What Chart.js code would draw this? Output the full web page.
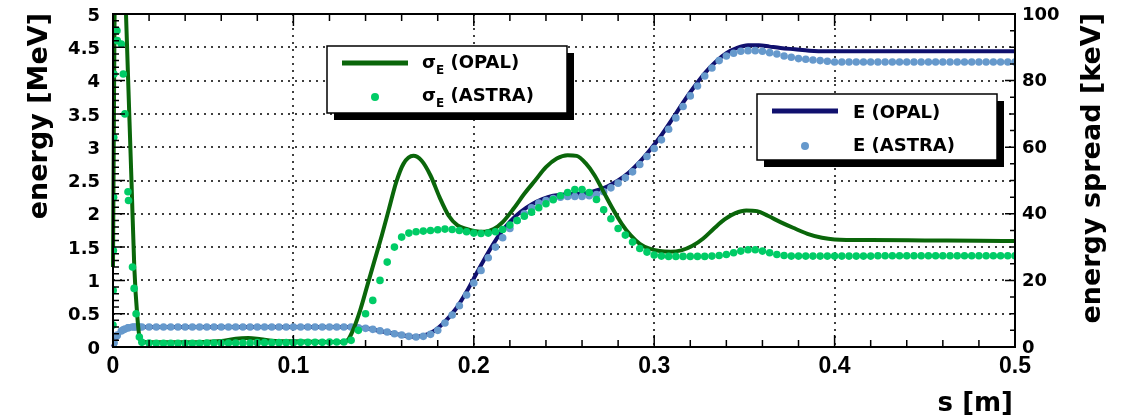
<!DOCTYPE html>
<html>
<head>
<meta charset="utf-8">
<title>energy and energy spread along s</title>
<script src="https://cdn.jsdelivr.net/npm/chart.js@4.4.1/dist/chart.umd.min.js"></script>
<style>
  html, body { margin: 0; padding: 0; background: #fff; }
  #chart { display: block; }
</style>
</head>
<body>
<canvas id="chart" width="1126" height="420"></canvas>
<script>
// tick labels
const xTicks = [0, 0.1, 0.2, 0.3, 0.4, 0.5];
const yTicks = [0, 0.5, 1, 1.5, 2, 2.5, 3, 3.5, 4, 4.5, 5];
const y2Ticks = [0, 20, 40, 60, 80, 100];

// OPAL mean energy [MeV]
const sOpalE = [0, 0.002, 0.004, 0.007, 0.01, 0.05, 0.1, 0.13, 0.14, 0.15,
  0.158, 0.166, 0.172, 0.178, 0.184, 0.19, 0.196, 0.202, 0.208, 0.214,
  0.22, 0.226, 0.232, 0.238, 0.244, 0.25, 0.256, 0.262, 0.268, 0.274,
  0.28, 0.286, 0.292, 0.298, 0.304, 0.31, 0.316, 0.322, 0.328, 0.334,
  0.34, 0.346, 0.352, 0.358, 0.364, 0.37, 0.378, 0.386, 0.395, 0.42,
  0.46, 0.5];
const eOpal = [0, 0.15, 0.23, 0.28, 0.3, 0.3, 0.3, 0.3, 0.28, 0.23,
  0.19, 0.155, 0.17, 0.24, 0.38, 0.57, 0.83, 1.13, 1.42, 1.68,
  1.88, 2.03, 2.14, 2.22, 2.27, 2.29, 2.3, 2.31, 2.35, 2.41,
  2.5, 2.62, 2.78, 2.97, 3.18, 3.42, 3.67, 3.9, 4.11, 4.28,
  4.41, 4.49, 4.53, 4.53, 4.51, 4.49, 4.47, 4.45, 4.44, 4.44,
  4.44, 4.44];

// OPAL energy spread [keV]
const sOpalS = [0, 0.0004, 0.001, 0.003, 0.005, 0.0072, 0.0103, 0.0118, 0.0135, 0.015,
  0.017, 0.03, 0.05, 0.06, 0.068, 0.075, 0.082, 0.09, 0.1, 0.11,
  0.12, 0.127, 0.13, 0.133, 0.137, 0.141, 0.145, 0.149, 0.153, 0.157,
  0.161, 0.1665, 0.171, 0.176, 0.181, 0.186, 0.191, 0.196, 0.201, 0.206,
  0.211, 0.216, 0.222, 0.228, 0.234, 0.24, 0.246, 0.252, 0.257, 0.262,
  0.267, 0.272, 0.277, 0.282, 0.287, 0.292, 0.297, 0.303, 0.309, 0.315,
  0.321, 0.327, 0.333, 0.339, 0.345, 0.351, 0.357, 0.363, 0.37, 0.377,
  0.385, 0.393, 0.4, 0.42, 0.45, 0.48, 0.5];
const sigmaOpal = [24, 60, 110, 150, 140, 100, 49, 24, 9, 2.2,
  1.5, 1.4, 1.5, 1.8, 2.5, 2.7, 2.3, 1.8, 1.7, 1.6,
  1.5, 1.5, 2, 5, 11, 18.5, 26, 33.5, 41.5, 49.5,
  55, 57.4, 56, 51.5, 45, 39.5, 36.5, 35.5, 34.8, 34.6,
  35.4, 37.5, 41.5, 46, 50, 54, 56.6, 57.6, 57.4, 55.2,
  51.5, 46.5, 41.5, 37, 33.5, 31, 29.6, 28.8, 28.6, 29,
  30.3, 32.5, 35.5, 38.3, 40.2, 41, 40.8, 39.4, 37.5, 35.8,
  34, 32.8, 32.3, 32.1, 32, 31.9, 31.8];

// ASTRA samples (shared s positions)
const sAstra = [0, 0.0001, 0.0002, 0.0003, 0.0004, 0.0005, 0.0022, 0.0024, 0.0046, 0.0057,
  0.0066, 0.0083, 0.0086, 0.0108, 0.0117, 0.0128, 0.0146,
  0.016, 0.02, 0.024, 0.028, 0.032, 0.036, 0.04, 0.044, 0.048, 0.052,
  0.056, 0.06, 0.064, 0.068, 0.072, 0.076, 0.08, 0.084, 0.088, 0.092,
  0.096, 0.1, 0.104, 0.108, 0.112, 0.116, 0.12, 0.124, 0.128, 0.132,
  0.136, 0.14, 0.144, 0.148, 0.152, 0.156, 0.16, 0.164, 0.168, 0.172,
  0.176, 0.18, 0.184, 0.188, 0.192, 0.196, 0.2, 0.204, 0.208, 0.212,
  0.216, 0.22, 0.224, 0.228, 0.232, 0.236, 0.24, 0.244, 0.248, 0.252,
  0.256, 0.26, 0.264, 0.268, 0.272, 0.276, 0.28, 0.284, 0.288, 0.292,
  0.296, 0.3, 0.304, 0.308, 0.312, 0.316, 0.32, 0.324, 0.328, 0.332,
  0.336, 0.34, 0.344, 0.348, 0.352, 0.356, 0.36, 0.364, 0.368, 0.372,
  0.376, 0.38, 0.384, 0.388, 0.392, 0.396, 0.4, 0.404, 0.408, 0.412,
  0.416, 0.42, 0.424, 0.428, 0.432, 0.436, 0.44, 0.444, 0.448, 0.452,
  0.456, 0.46, 0.464, 0.468, 0.472, 0.476, 0.48, 0.484, 0.488, 0.492,
  0.496, 0.5];
const eAstra = [0.02, 0.03, 0.04, 0.05, 0.06, 0.07, 0.17, 0.18, 0.24, 0.26,
  0.27, 0.29, 0.29, 0.3, 0.3, 0.3, 0.3,
  0.3, 0.3, 0.3, 0.3, 0.3, 0.3, 0.3, 0.3, 0.3, 0.3,
  0.3, 0.3, 0.3, 0.3, 0.3, 0.3, 0.3, 0.3, 0.3, 0.3,
  0.3, 0.3, 0.3, 0.3, 0.3, 0.3, 0.3, 0.3, 0.3, 0.3,
  0.29, 0.28, 0.265, 0.245, 0.225, 0.2, 0.18, 0.16, 0.15, 0.16,
  0.19, 0.25, 0.36, 0.48, 0.62, 0.78, 0.96, 1.15, 1.34, 1.5,
  1.64, 1.78, 1.9, 2.0, 2.09, 2.16, 2.2, 2.23, 2.25, 2.26,
  2.26, 2.26, 2.27, 2.29, 2.33, 2.39, 2.46, 2.54, 2.63, 2.74,
  2.86, 2.98, 3.11, 3.27, 3.44, 3.61, 3.77, 3.92, 4.07, 4.19,
  4.3, 4.37, 4.41, 4.44, 4.45, 4.45, 4.44, 4.42, 4.4, 4.37,
  4.35, 4.33, 4.32, 4.31, 4.3, 4.29, 4.28, 4.28, 4.28, 4.28,
  4.28, 4.28, 4.28, 4.28, 4.28, 4.28, 4.28, 4.28, 4.28, 4.28,
  4.28, 4.28, 4.28, 4.28, 4.28, 4.28, 4.28, 4.28, 4.28, 4.28,
  4.28, 4.28];
const sigmaAstra = [6.6, 17, 29, 45, 63, 82, 95, 92, 91, 82,
  70, 46.6, 44, 24, 17.6, 10, 3,
  1.4, 1.2, 1.1, 1.1, 1.1, 1.1, 1.1, 1.1, 1.1, 1.2,
  1.2, 1.2, 1.2, 1.2, 1.2, 1.2, 1.3, 1.3, 1.3, 1.3,
  1.3, 1.3, 1.4, 1.4, 1.4, 1.4, 1.5, 1.5, 1.5, 2,
  5, 10, 14, 20, 25.5, 30, 33, 34.2, 34.6, 34.8,
  35, 35.2, 35.4, 35.3, 35, 34.6, 34.2, 34.1, 34.2, 34.6,
  35.3, 36.6, 38, 39.3, 40.5, 41.8, 43, 44.2, 45.4, 46.4,
  47.3, 47.3, 46.4, 44.3, 41.2, 38.5, 35.6, 33.6, 31.5, 29.6,
  28.5, 27.6, 27.3, 27.2, 27.2, 27.2, 27.2, 27.2, 27.2, 27.3,
  27.5, 27.8, 28.3, 28.8, 29.2, 29.2, 28.8, 28.3, 27.8, 27.5,
  27.3, 27.3, 27.3, 27.3, 27.3, 27.3, 27.3, 27.3, 27.3, 27.3,
  27.3, 27.3, 27.4, 27.4, 27.4, 27.4, 27.4, 27.4, 27.4, 27.4,
  27.4, 27.4, 27.4, 27.4, 27.4, 27.4, 27.4, 27.4, 27.4, 27.4,
  27.4, 27.4];

const toXY = (xs, ys) => xs.map((s, i) => ({ x: s, y: ys[i] }));

const NAVY = '#10106e';
const LIGHT_BLUE = '#6699cc';
const DARK_GREEN = '#0a660a';
const BRIGHT_GREEN = '#00cc66';

const boldFont = (size, family) => `bold ${size}px "${family}"`;

function drawLegend(ctx, box, entries) {
  ctx.fillStyle = '#000';
  ctx.fillRect(box.x + 7, box.y + 7, box.w, box.h);
  ctx.fillStyle = '#fff';
  ctx.fillRect(box.x, box.y, box.w, box.h);
  ctx.strokeStyle = '#000';
  ctx.lineWidth = 1.5;
  ctx.strokeRect(box.x, box.y, box.w, box.h);
  entries.forEach(e => {
    if (e.kind === 'line') {
      ctx.strokeStyle = e.color;
      ctx.lineWidth = 5;
      ctx.beginPath();
      ctx.moveTo(e.x0, e.my);
      ctx.lineTo(e.x1, e.my);
      ctx.stroke();
    } else {
      ctx.fillStyle = e.color;
      ctx.beginPath();
      ctx.arc((e.x0 + e.x1) / 2, e.my, 4, 0, Math.PI * 2);
      ctx.fill();
    }
    ctx.fillStyle = '#000';
    ctx.textAlign = 'left';
    ctx.textBaseline = 'alphabetic';
    ctx.font = boldFont(18, 'DejaVu Sans');
    let cx = e.tx;
    ctx.fillText(e.main, cx, e.ty);
    cx += ctx.measureText(e.main).width;
    if (e.sub) {
      ctx.font = boldFont(12, 'DejaVu Sans');
      ctx.fillText(e.sub, cx, e.ty + 6);
      cx += ctx.measureText(e.sub).width;
      ctx.font = boldFont(18, 'DejaVu Sans');
    }
    ctx.fillText(e.rest, cx, e.ty);
  });
}

const rootFrame = {
  id: 'rootFrame',
  beforeDatasetsDraw(chart) {
    const { ctx, chartArea: a } = chart;
    const { x, y } = chart.scales;
    ctx.save();
    ctx.strokeStyle = '#000';
    ctx.lineWidth = 1.5;
    ctx.setLineDash([2, 5]);
    ctx.beginPath();
    xTicks.slice(1, -1).forEach(v => {
      const px = Math.round(x.getPixelForValue(v));
      ctx.moveTo(px, a.top);
      ctx.lineTo(px, a.bottom);
    });
    yTicks.slice(1, -1).forEach(v => {
      const py = Math.round(y.getPixelForValue(v));
      ctx.moveTo(a.left, py);
      ctx.lineTo(a.right, py);
    });
    ctx.stroke();
    ctx.restore();
  },
  afterDatasetsDraw(chart) {
    const { ctx, chartArea: a } = chart;
    const { x, y, y2 } = chart.scales;
    ctx.save();
    ctx.strokeStyle = '#000';
    ctx.lineWidth = 1.5;
    ctx.beginPath();
    // minor ticks every 0.02 m, inside, bottom and top
    for (let i = 0; i <= 25; i++) {
      const px = x.getPixelForValue(i * 0.02);
      const len = i % 5 === 0 ? 12 : 7;
      ctx.moveTo(px, a.bottom); ctx.lineTo(px, a.bottom - len);
      ctx.moveTo(px, a.top); ctx.lineTo(px, a.top + len);
    }
    // left axis every 0.1 MeV
    for (let i = 0; i <= 50; i++) {
      const py = y.getPixelForValue(i * 0.1);
      const len = i % 5 === 0 ? 12 : 6;
      ctx.moveTo(a.left, py); ctx.lineTo(a.left + len, py);
    }
    // right axis every 5 keV
    for (let i = 0; i <= 20; i++) {
      const py = y2.getPixelForValue(i * 5);
      const len = i % 4 === 0 ? 10 : 5;
      ctx.moveTo(a.right, py); ctx.lineTo(a.right - len, py);
    }
    ctx.stroke();
    ctx.lineWidth = 2;
    ctx.strokeRect(a.left, a.top, a.right - a.left, a.bottom - a.top);
    ctx.restore();
  },
  afterDraw(chart) {
    const { ctx } = chart;
    ctx.save();
    // axis titles
    ctx.fillStyle = '#000';
    ctx.font = boldFont(27, 'DejaVu Sans');
    ctx.textBaseline = 'alphabetic';
    ctx.textAlign = 'right';
    ctx.save();
    ctx.translate(47, 13);
    ctx.rotate(-Math.PI / 2);
    ctx.fillText('energy [MeV]', 0, 0);
    ctx.restore();
    ctx.save();
    ctx.translate(1100, 13);
    ctx.rotate(-Math.PI / 2);
    ctx.fillText('energy spread [keV]', 0, 0);
    ctx.restore();
    ctx.font = boldFont(26, 'DejaVu Sans');
    ctx.fillText('s [m]', 1013, 411);

    drawLegend(ctx, { x: 327, y: 46, w: 240, h: 67 }, [
      { kind: 'line', color: DARK_GREEN, x0: 342, x1: 408, my: 63, tx: 422, ty: 68, main: 'σ', sub: 'E', rest: ' (OPAL)' },
      { kind: 'dot', color: BRIGHT_GREEN, x0: 342, x1: 408, my: 97, tx: 422, ty: 101, main: 'σ', sub: 'E', rest: ' (ASTRA)' }
    ]);
    drawLegend(ctx, { x: 757, y: 94, w: 240, h: 66 }, [
      { kind: 'line', color: NAVY, x0: 772, x1: 838, my: 111, tx: 853, ty: 118, main: 'E', sub: '', rest: ' (OPAL)' },
      { kind: 'dot', color: LIGHT_BLUE, x0: 772, x1: 838, my: 146, tx: 853, ty: 151, main: 'E', sub: '', rest: ' (ASTRA)' }
    ]);
    ctx.restore();
  }
};

// fixed axis boxes so the plot frame lands where the reference has it
const noPad = s => { s.paddingTop = 0; s.paddingBottom = 0; s.paddingLeft = 0; s.paddingRight = 0; };

const ctx = document.getElementById('chart').getContext('2d');
const chart = new Chart(ctx, {
  type: 'scatter',
  data: {
    datasets: [
      {
        label: 'σE (ASTRA)',
        data: toXY(sAstra, sigmaAstra),
        yAxisID: 'y2',
        backgroundColor: BRIGHT_GREEN,
        pointRadius: 3.8,
        pointBorderWidth: 0,
        order: 0
      },
      {
        label: 'σE (OPAL)',
        data: toXY(sOpalS, sigmaOpal),
        yAxisID: 'y2',
        showLine: true,
        borderColor: DARK_GREEN,
        borderWidth: 4,
        pointRadius: 0,
        cubicInterpolationMode: 'monotone',
        clip: { left: 4, top: 0, right: 0, bottom: 4 },
        order: 1
      },
      {
        label: 'E (ASTRA)',
        data: toXY(sAstra, eAstra),
        yAxisID: 'y',
        backgroundColor: LIGHT_BLUE,
        pointRadius: 3.8,
        pointBorderWidth: 0,
        order: 2
      },
      {
        label: 'E (OPAL)',
        data: toXY(sOpalE, eOpal),
        yAxisID: 'y',
        showLine: true,
        borderColor: NAVY,
        borderWidth: 4,
        pointRadius: 0,
        cubicInterpolationMode: 'monotone',
        clip: { left: 4, top: 0, right: 0, bottom: 4 },
        order: 3
      }
    ]
  },
  options: {
    responsive: false,
    animation: false,
    layout: { padding: { top: 14, left: 0, right: 0, bottom: 0 } },
    plugins: {
      legend: { display: false },
      tooltip: { enabled: false }
    },
    scales: {
      x: {
        type: 'linear',
        position: 'bottom',
        min: 0,
        max: 0.5,
        grid: { display: false, drawTicks: false },
        border: { display: false },
        afterBuildTicks: s => { s.ticks = xTicks.map(v => ({ value: v })); },
        afterFit: s => { s.height = 73; noPad(s); },
        ticks: {
          color: '#000',
          padding: 6,
          maxRotation: 0,
          autoSkip: false,
          font: { family: 'Liberation Sans', weight: 'bold', size: 23 },
          callback: v => String(v)
        }
      },
      y: {
        type: 'linear',
        position: 'left',
        min: 0,
        max: 5,
        grid: { display: false, drawTicks: false },
        border: { display: false },
        afterBuildTicks: s => { s.ticks = yTicks.map(v => ({ value: v })); },
        afterFit: s => { s.width = 113; noPad(s); },
        ticks: {
          color: '#000',
          padding: 13,
          labelOffset: 2,
          autoSkip: false,
          font: { family: 'DejaVu Sans', weight: 'bold', size: 18 },
          callback: v => String(v)
        }
      },
      y2: {
        type: 'linear',
        position: 'right',
        min: 0,
        max: 100,
        grid: { display: false, drawTicks: false },
        border: { display: false },
        afterBuildTicks: s => { s.ticks = y2Ticks.map(v => ({ value: v })); },
        afterFit: s => { s.width = 111; noPad(s); },
        ticks: {
          color: '#000',
          padding: 7,
          labelOffset: 1,
          autoSkip: false,
          font: { family: 'DejaVu Sans', weight: 'bold', size: 18 },
          callback: v => String(v)
        }
      }
    }
  },
  plugins: [rootFrame]
});
</script>
</body>
</html>
